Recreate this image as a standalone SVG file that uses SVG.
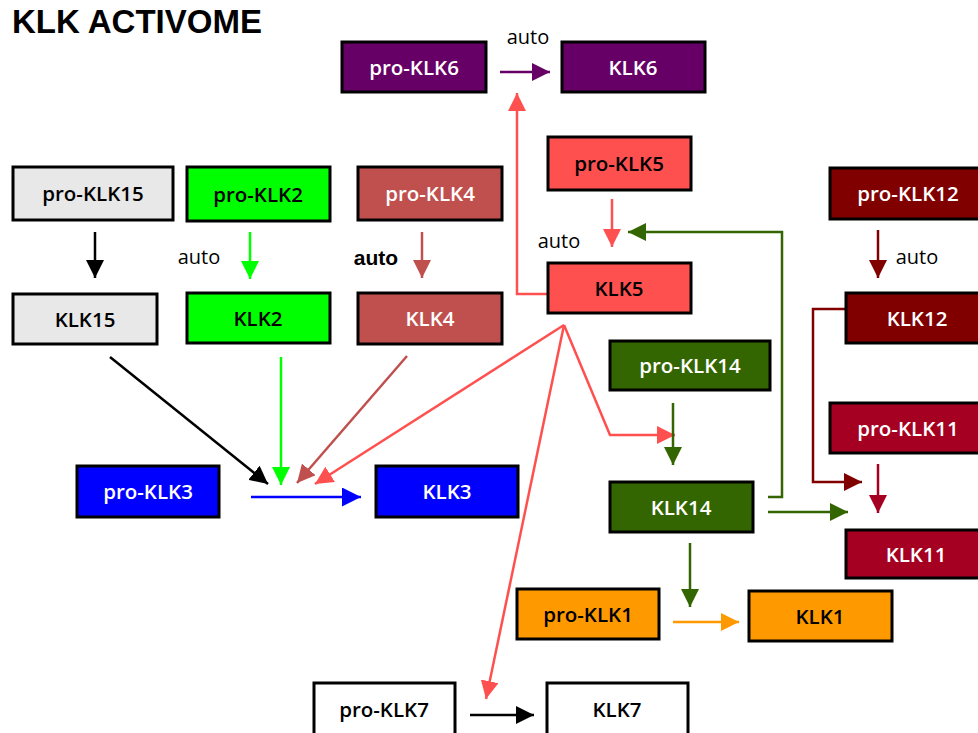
<svg xmlns="http://www.w3.org/2000/svg" width="978" height="733" viewBox="0 0 978 733">
<style>
.box{stroke:#000;stroke-width:3}
.lbl{font-family:"Open Sans","Liberation Sans",sans-serif;font-weight:600;font-size:20.5px;text-anchor:middle;dominant-baseline:central}
.w{fill:#fff}
.k{fill:#000}
.auto{font-family:"Open Sans","Liberation Sans",sans-serif;font-weight:500;font-size:20px;fill:#000;text-anchor:middle}
.autob{font-family:"Liberation Sans",Arial,sans-serif;font-weight:bold;font-size:21px;fill:#000;text-anchor:middle}
.c{fill:none;stroke-width:2.5}
</style>
<defs>
<marker id="m-purple" viewBox="0 0 16 16" refX="16" refY="8" markerWidth="18" markerHeight="18" markerUnits="userSpaceOnUse" orient="auto"><path d="M0,0L16,8L0,16z" fill="#660066"/></marker>
<marker id="m-red" viewBox="0 0 16 16" refX="16" refY="8" markerWidth="18" markerHeight="18" markerUnits="userSpaceOnUse" orient="auto"><path d="M0,0L16,8L0,16z" fill="#FF5050"/></marker>
<marker id="m-green" viewBox="0 0 16 16" refX="16" refY="8" markerWidth="18" markerHeight="18" markerUnits="userSpaceOnUse" orient="auto"><path d="M0,0L16,8L0,16z" fill="#336600"/></marker>
<marker id="m-dred" viewBox="0 0 16 16" refX="16" refY="8" markerWidth="18" markerHeight="18" markerUnits="userSpaceOnUse" orient="auto"><path d="M0,0L16,8L0,16z" fill="#800000"/></marker>
<marker id="m-crim" viewBox="0 0 16 16" refX="16" refY="8" markerWidth="18" markerHeight="18" markerUnits="userSpaceOnUse" orient="auto"><path d="M0,0L16,8L0,16z" fill="#A50021"/></marker>
<marker id="m-black" viewBox="0 0 16 16" refX="16" refY="8" markerWidth="18" markerHeight="18" markerUnits="userSpaceOnUse" orient="auto"><path d="M0,0L16,8L0,16z" fill="#000"/></marker>
<marker id="m-lime" viewBox="0 0 16 16" refX="16" refY="8" markerWidth="18" markerHeight="18" markerUnits="userSpaceOnUse" orient="auto"><path d="M0,0L16,8L0,16z" fill="#00FF00"/></marker>
<marker id="m-brown" viewBox="0 0 16 16" refX="16" refY="8" markerWidth="18" markerHeight="18" markerUnits="userSpaceOnUse" orient="auto"><path d="M0,0L16,8L0,16z" fill="#C0504D"/></marker>
<marker id="m-blue" viewBox="0 0 16 16" refX="16" refY="8" markerWidth="19" markerHeight="19" markerUnits="userSpaceOnUse" orient="auto"><path d="M0,0L16,8L0,16z" fill="#0000FF"/></marker>
<marker id="m-orange" viewBox="0 0 16 16" refX="16" refY="8" markerWidth="18" markerHeight="18" markerUnits="userSpaceOnUse" orient="auto"><path d="M0,0L16,8L0,16z" fill="#FF9900"/></marker>
</defs>
<rect width="978" height="733" fill="#fff"/>
<text x="12" y="33" font-family="Liberation Sans, Arial, sans-serif" font-weight="bold" font-size="33" fill="#000">KLK ACTIVOME</text>

<g id="connectors">
<line class="c" x1="500" y1="72" x2="550" y2="72" stroke="#660066" marker-end="url(#m-purple)"/>
<polyline class="c" points="548,294 517,294 517,93" stroke="#FF5050" marker-end="url(#m-red)"/>
<line class="c" x1="612" y1="199" x2="612" y2="247" stroke="#FF5050" marker-end="url(#m-red)"/>
<polyline class="c" points="768,497 782,497 782,232 628,232" stroke="#336600" marker-end="url(#m-green)"/>
<line class="c" x1="878" y1="230" x2="878" y2="278" stroke="#800000" marker-end="url(#m-dred)"/>
<polyline class="c" points="846,309 813,309 813,482 862,482" stroke="#800000" marker-end="url(#m-dred)"/>
<line class="c" x1="878" y1="464" x2="878" y2="513" stroke="#A50021" marker-end="url(#m-crim)"/>
<line class="c" x1="95" y1="232" x2="95" y2="278" stroke="#000" marker-end="url(#m-black)"/>
<line class="c" x1="250" y1="232" x2="250" y2="279" stroke="#00FF00" marker-end="url(#m-lime)"/>
<line class="c" x1="422" y1="232" x2="422" y2="278" stroke="#C0504D" marker-end="url(#m-brown)"/>
<line class="c" x1="110" y1="357" x2="268" y2="484" stroke="#000" stroke-width="3" marker-end="url(#m-black)"/>
<line class="c" x1="281" y1="357" x2="281" y2="485" stroke="#00FF00" marker-end="url(#m-lime)"/>
<line class="c" x1="407" y1="356" x2="297" y2="483" stroke="#C0504D" stroke-width="3" marker-end="url(#m-brown)"/>
<line class="c" x1="564" y1="325" x2="315" y2="484" stroke="#FF5050" marker-end="url(#m-red)"/>
<polyline class="c" points="564,325 610,435 675,435" stroke="#FF5050" marker-end="url(#m-red)"/>
<line class="c" x1="564" y1="325" x2="486" y2="699" stroke="#FF5050" marker-end="url(#m-red)"/>
<line class="c" x1="251" y1="497" x2="361" y2="497" stroke="#0000FF" stroke-width="3" marker-end="url(#m-blue)"/>
<line class="c" x1="673" y1="403" x2="673" y2="465" stroke="#336600" marker-end="url(#m-green)"/>
<line class="c" x1="768" y1="512" x2="848" y2="512" stroke="#336600" marker-end="url(#m-green)"/>
<line class="c" x1="690" y1="543" x2="690" y2="607" stroke="#336600" marker-end="url(#m-green)"/>
<line class="c" x1="673" y1="622" x2="739" y2="622" stroke="#FF9900" marker-end="url(#m-orange)"/>
<line class="c" x1="470" y1="715" x2="534" y2="715" stroke="#000" stroke-width="3" marker-end="url(#m-black)"/>
</g>

<g id="labels">
<text class="auto" x="528" y="44">auto</text>
<text class="auto" x="559" y="248">auto</text>
<text class="auto" x="917" y="264">auto</text>
<text class="auto" x="199" y="264">auto</text>
<text class="autob" x="376" y="265">auto</text>
</g>

<g id="pro-KLK6"><rect class="box" x="342" y="42" width="144" height="50" fill="#660066"/><text class="lbl w" x="414" y="67">pro-KLK6</text></g>
<g id="KLK6"><rect class="box" x="562" y="42" width="143" height="50" fill="#660066"/><text class="lbl w" x="633" y="67">KLK6</text></g>
<g id="pro-KLK5"><rect class="box" x="548" y="137" width="143" height="53" fill="#FF5050"/><text class="lbl k" x="619" y="163">pro-KLK5</text></g>
<g id="KLK5"><rect class="box" x="548" y="263" width="143" height="50" fill="#FF5050"/><text class="lbl k" x="619" y="288">KLK5</text></g>
<g id="pro-KLK12"><rect class="box" x="830" y="168" width="158" height="51" fill="#800000"/><text class="lbl w" x="908" y="193">pro-KLK12</text></g>
<g id="KLK12"><rect class="box" x="846" y="293" width="142" height="50" fill="#800000"/><text class="lbl w" x="917" y="318">KLK12</text></g>
<g id="pro-KLK11"><rect class="box" x="830" y="403" width="158" height="50" fill="#A50021"/><text class="lbl w" x="908" y="428">pro-KLK11</text></g>
<g id="KLK11"><rect class="box" x="846" y="530" width="142" height="48" fill="#A50021"/><text class="lbl w" x="916" y="554">KLK11</text></g>
<g id="pro-KLK15"><rect class="box" x="13" y="167" width="160" height="53" fill="#E8E8E8"/><text class="lbl k" x="93" y="193">pro-KLK15</text></g>
<g id="pro-KLK2"><rect class="box" x="187" y="167" width="143" height="54" fill="#00FF00"/><text class="lbl k" x="258" y="194">pro-KLK2</text></g>
<g id="pro-KLK4"><rect class="box" x="358" y="167" width="144" height="53" fill="#C0504D"/><text class="lbl w" x="430" y="193">pro-KLK4</text></g>
<g id="KLK15"><rect class="box" x="13" y="294" width="144" height="50" fill="#E8E8E8"/><text class="lbl k" x="85" y="319">KLK15</text></g>
<g id="KLK2"><rect class="box" x="187" y="293" width="143" height="50" fill="#00FF00"/><text class="lbl k" x="258" y="318">KLK2</text></g>
<g id="KLK4"><rect class="box" x="358" y="293" width="144" height="51" fill="#C0504D"/><text class="lbl w" x="430" y="318">KLK4</text></g>
<g id="pro-KLK3"><rect class="box" x="77" y="466" width="142" height="51" fill="#0000FF"/><text class="lbl w" x="148" y="491">pro-KLK3</text></g>
<g id="KLK3"><rect class="box" x="376" y="466" width="142" height="51" fill="#0000FF"/><text class="lbl w" x="447" y="491">KLK3</text></g>
<g id="pro-KLK14"><rect class="box" x="610" y="341" width="160" height="49" fill="#336600"/><text class="lbl w" x="690" y="365">pro-KLK14</text></g>
<g id="KLK14"><rect class="box" x="610" y="482" width="143" height="50" fill="#336600"/><text class="lbl w" x="681" y="507">KLK14</text></g>
<g id="pro-KLK1"><rect class="box" x="517" y="589" width="142" height="50" fill="#FF9900"/><text class="lbl k" x="588" y="614">pro-KLK1</text></g>
<g id="KLK1"><rect class="box" x="749" y="591" width="143" height="50" fill="#FF9900"/><text class="lbl k" x="820" y="616">KLK1</text></g>
<g id="pro-KLK7"><rect class="box" x="314" y="683" width="141" height="52" fill="#fff"/><text class="lbl k" x="384" y="709">pro-KLK7</text></g>
<g id="KLK7"><rect class="box" x="547" y="683" width="141" height="52" fill="#fff"/><text class="lbl k" x="617" y="709">KLK7</text></g>
</svg>
